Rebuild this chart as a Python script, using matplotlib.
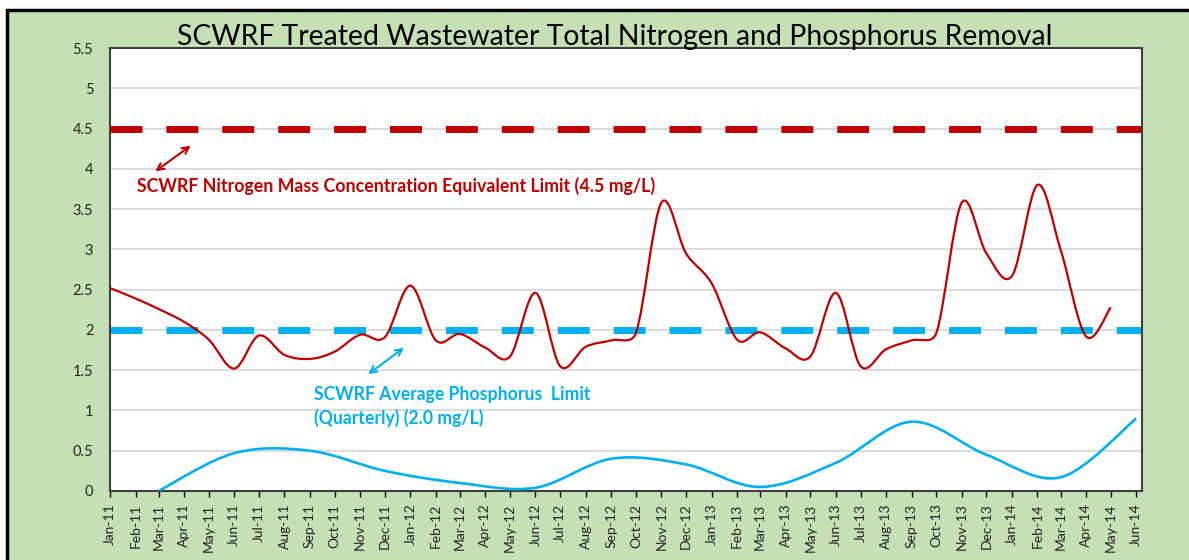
import numpy as np
import pandas as pd
import matplotlib
matplotlib.use('Agg')
import matplotlib.pyplot as plt
import matplotlib.dates as mdates
from matplotlib.path import Path
from matplotlib.patches import PathPatch, Rectangle

plt.rcParams['font.family'] = ['Lato', 'DejaVu Sans']

# monthly total nitrogen (mg/L), Jan-11 .. May-14
nitrogen_months = pd.date_range('2011-01-01', '2014-05-01', freq='MS')
nitrogen = [2.52, 2.39, 2.26, 2.10, 1.88, 1.52, 1.93, 1.69, 1.64, 1.73, 1.94, 1.91,
            2.55, 1.87, 1.95, 1.78, 1.67, 2.46, 1.55, 1.79, 1.87, 1.96, 3.58, 2.95,
            2.58, 1.88, 1.97, 1.77, 1.67, 2.46, 1.55, 1.76, 1.87, 1.96, 3.58, 2.95,
            2.67, 3.80, 3.00, 1.92, 2.28]

# quarterly phosphorus (mg/L), Mar-11 .. Jun-14
phos_months = pd.date_range('2011-03-01', '2014-06-01', freq='3MS')
phosphorus = [0.00, 0.47, 0.50, 0.25, 0.10, 0.04, 0.40, 0.33, 0.05, 0.35, 0.86, 0.45, 0.17, 0.90]

tick_months = pd.date_range('2011-01-01', '2014-06-01', freq='MS')

n_limit = 4.5
p_limit = 2.0

RED = '#C00000'
BLUE = '#00B0F0'
GREEN = '#C5E0B4'

x0 = mdates.date2num(pd.Timestamp('2011-01-01'))
x1 = mdates.date2num(pd.Timestamp('2014-06-08'))
AX_W, AX_H = 1032, 443   # axes size in pixels
YMAX = 5.5


def smooth_path(dates, vals):
    # excel style smoothing: bezier arms of 1/6, clamped to half the segment (in pixels)
    sx = AX_W / (x1 - x0)
    sy = AX_H / YMAX
    x = mdates.date2num(dates)
    y = np.asarray(vals, dtype=float)
    P = np.column_stack([x * sx, y * sy])
    P = np.vstack([P[0], P, P[-1]])
    verts = [P[1]]
    codes = [Path.MOVETO]
    for i in range(1, len(P) - 2):
        p0, p1, p2, p3 = P[i - 1], P[i], P[i + 1], P[i + 2]
        d02 = np.hypot(*(p2 - p0))
        d12 = np.hypot(*(p2 - p1))
        d13 = np.hypot(*(p3 - p1))
        f = 1 / 6 if d02 / 6 < d12 / 2 else d12 / (2 * d02)
        g = 1 / 6 if d13 / 6 < d12 / 2 else d12 / (2 * d13)
        verts += [p1 + f * (p2 - p0), p2 - g * (p3 - p1), p2]
        codes += [Path.CURVE4] * 3
    verts = np.array(verts) / [sx, sy]
    return Path(verts, codes)


fig = plt.figure(figsize=(11.89, 5.6), dpi=100)
fig.patch.set_facecolor('white')
fig.patches.append(Rectangle((7 / 1189, -0.05), 1.1, 1 - 10 / 560 + 0.05,
                             transform=fig.transFigure, facecolor=GREEN,
                             edgecolor='black', lw=2.5, zorder=-5))

ax = fig.add_axes([110 / 1189, 1 - 491 / 560, AX_W / 1189, AX_H / 560])
ax.set_facecolor('white')

ax.add_patch(PathPatch(smooth_path(nitrogen_months, nitrogen), fill=False,
                       edgecolor=RED, lw=1.6, zorder=3))
ax.add_patch(PathPatch(smooth_path(phos_months, phosphorus), fill=False,
                       edgecolor=BLUE, lw=1.9, zorder=3))

ax.axhline(n_limit, color=RED, lw=5, dashes=(4.6, 3.45), zorder=2)
ax.axhline(p_limit, color=BLUE, lw=5, dashes=(4.6, 3.45), zorder=2)

ax.set_xlim(x0, x1)
ax.set_ylim(0, YMAX)
ax.set_yticks(np.arange(0, 5.51, 0.5))
ax.set_yticklabels(['0', '0.5', '1', '1.5', '2', '2.5', '3', '3.5', '4', '4.5', '5', '5.5'])
ax.set_xticks(mdates.date2num(tick_months))
ax.set_xticklabels([d.strftime('%b-%y') for d in tick_months], rotation=90)
ax.tick_params(axis='y', length=0, pad=12, labelsize=10.5, labelcolor='#222222')
ax.tick_params(axis='x', length=4, width=1, direction='out', pad=5,
               labelsize=10, labelcolor='#222222')
ax.grid(axis='y', color='#D9D9D9', lw=1.3)
ax.set_axisbelow(True)
for s in ax.spines.values():
    s.set_color('#404040')
    s.set_linewidth(1.5)

fig.text(615 / 1189, 1 - 37 / 560, 'SCWRF Treated Wastewater Total Nitrogen and Phosphorus Removal',
         ha='center', va='center', fontsize=20.4, color='black')

ax.text(0.026, 0.688, 'SCWRF Nitrogen Mass Concentration Equivalent Limit (4.5 mg/L)',
        transform=ax.transAxes, ha='left', va='center', fontsize=12.8,
        fontweight='bold', color=RED)
ax.text(0.198, 0.217, 'SCWRF Average Phosphorus  Limit', transform=ax.transAxes,
        ha='left', va='center', fontsize=12.7, fontweight='bold', color=BLUE)
ax.text(0.198, 0.165, '(Quarterly) (2.0 mg/L)', transform=ax.transAxes,
        ha='left', va='center', fontsize=12.7, fontweight='bold', color=BLUE)

ax.annotate('', xy=(0.0804, 0.783), xytext=(0.0417, 0.718), xycoords='axes fraction',
            arrowprops=dict(arrowstyle='<->', color=RED, lw=1.5, mutation_scale=12))
ax.annotate('', xy=(0.287, 0.327), xytext=(0.248, 0.260), xycoords='axes fraction',
            arrowprops=dict(arrowstyle='<->', color=BLUE, lw=1.5, mutation_scale=12))

fig.savefig('out.png', dpi=100, facecolor=fig.get_facecolor())
